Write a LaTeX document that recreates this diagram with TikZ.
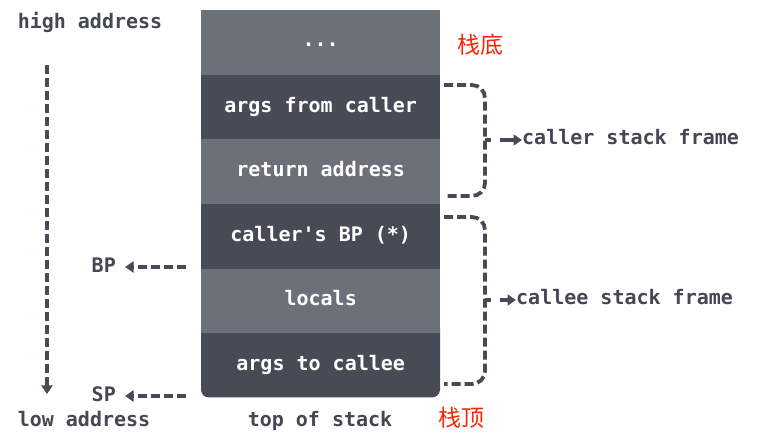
\documentclass[tikz,border=0pt]{standalone}
\usepackage{fontspec}
\newfontfamily\monof{DejaVu Sans Mono}
\newfontfamily\cjk{Noto Sans CJK SC}
\usetikzlibrary{arrows.meta}
\definecolor{lightc}{RGB}{108,113,121}
\definecolor{darkc}{RGB}{70,75,86}
\definecolor{inkc}{RGB}{67,72,83}
\definecolor{redc}{RGB}{245,40,10}
\tikzset{
  row/.style={anchor=north west, minimum width=239pt, minimum height=64.6pt, inner sep=0pt,
    text=white, font=\monof\bfseries\fontsize{20}{24}\selectfont, text height=14pt, text depth=4pt},
  lightrow/.style={row, fill=lightc},
  darkrow/.style={row, fill=darkc},
  lbl/.style={inner sep=0pt, text=inkc, font=\monof\bfseries\fontsize{20}{24}\selectfont, text height=14pt, text depth=4pt},
  cn/.style={inner sep=0pt, text=redc, font=\cjk\fontsize{23}{27}\selectfont},
  dashl/.style={draw=darkc, line width=3.8pt, dash pattern=on 9pt off 4pt},
  arr/.style={dashl, -{Triangle[length=8.5pt,width=11pt]}},
}
\begin{document}
\begin{tikzpicture}[x=1pt,y=-1pt]
\useasboundingbox[fill=white] (0,0) rectangle (777,435);
% bottom row background with rounded corners
\fill[darkc, rounded corners=8pt] (201,320) rectangle (440,397.5);
\node[lightrow] (r1) at (201,10) {};
\node[darkrow]  (r2) at (201,74.6) {args from caller};
\node[lightrow] (r3) at (201,139.2) {return address};
\node[darkrow]  (r4) at (201,203.8) {caller's BP (*)};
\node[lightrow] (r5) at (201,268.4) {locals};
\node[row]      (r6) at (201,333) {args to callee};
\node[lbl, text=white] (dots) at ([yshift=1pt]r1.center) {...};

% left labels
\node[lbl] (high) at (90,24) {high address};
\node[lbl] (low) at (84,422) {low address};
\coordinate (vtop) at (47,65);
\coordinate (vbot) at (47,394);
\draw[arr] (vtop) -- (vbot);

\node[lbl, anchor=east] (bp) at (116,268) {BP};
\node[lbl, anchor=east] (sp) at (116,397) {SP};
\coordinate (bpstart) at (186,267);
\coordinate (spstart) at (186,396);
\draw[arr] (bpstart) -- ([xshift=9pt]bp.east |- bpstart);
\draw[arr] (spstart) -- ([xshift=9pt]sp.east |- spstart);

% bottom labels
\node[lbl] (tos) at (320,422) {top of stack};
\node[cn] (top) at (461,418) {栈顶};
\node[cn] (bot) at (480,45) {栈底};

% caller bracket
\coordinate (c1) at (444,85);
\coordinate (c2) at (444,196);
\draw[dashl, rounded corners=13pt] (c1) -- (485,85) -- (485,196) -- (c2);
\node[lbl, anchor=west] (callerl) at (522,140) {caller stack frame};
\draw[dashl, dash pattern=on 6pt off 9pt] (485,140) -- (500,140);
\draw[arr, dash pattern=on 20pt off 0pt] (500,140) -- (callerl.west |- 0,140);

% callee bracket
\coordinate (d1) at (444,217);
\coordinate (d2) at (444,384);
\draw[dashl, rounded corners=13pt] (d1) -- (485,217) -- (485,384) -- (d2);
\node[lbl, anchor=west] (calleel) at (516,300) {callee stack frame};
\draw[dashl, dash pattern=on 6pt off 9pt] (485,300) -- (500,300);
\draw[arr, dash pattern=on 20pt off 0pt] (500,300) -- (calleel.west |- 0,300);
\end{tikzpicture}
\end{document}
